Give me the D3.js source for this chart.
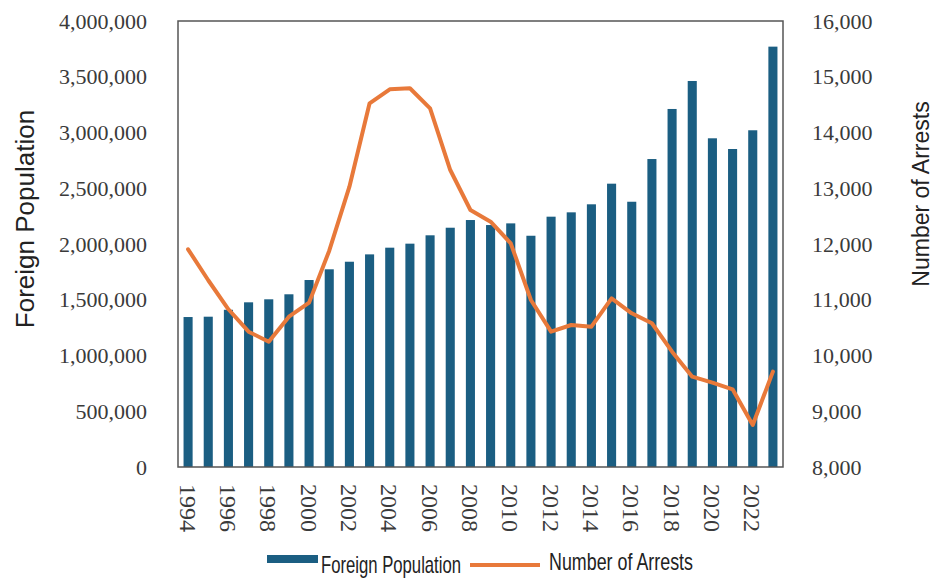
<!DOCTYPE html>
<html>
<head>
<meta charset="utf-8">
<script src="https://cdn.jsdelivr.net/npm/d3@7"></script>
<style>
  body { margin: 0; background: #fff; }
  svg { display: block; }
</style>
</head>
<body>
<div id="chart"></div>
<script>
// values
const years = [1994, 1995, 1996, 1997, 1998, 1999, 2000, 2001, 2002, 2003,
               2004, 2005, 2006, 2007, 2008, 2009, 2010, 2011, 2012, 2013,
               2014, 2015, 2016, 2017, 2018, 2019, 2020, 2021, 2022, 2023];
const foreignPopulation = [1345000, 1348000, 1410000, 1477000, 1504000, 1549000, 1677000, 1773000, 1841000, 1907000,
                           1967000, 2003000, 2078000, 2146000, 2215000, 2170000, 2185000, 2074000, 2245000, 2284000,
                           2356000, 2541000, 2379000, 2762000, 3211000, 3462000, 2948000, 2852000, 3020000, 3770000];
const arrests = [11905, 11350, 10829, 10427, 10248, 10696, 10948, 11880, 13028, 14524,
                 14775, 14793, 14434, 13327, 12610, 12400, 12012, 10995, 10427, 10547,
                 10517, 11026, 10757, 10578, 10068, 9620, 9512, 9393, 8753, 9710];
const xTickYears = [1994, 1996, 1998, 2000, 2002, 2004, 2006, 2008, 2010, 2012, 2014, 2016, 2018, 2020, 2022];
const leftTicks = [0, 500000, 1000000, 1500000, 2000000, 2500000, 3000000, 3500000, 4000000];
const rightTicks = [8000, 9000, 10000, 11000, 12000, 13000, 14000, 15000, 16000];

const W = 937, H = 588;
const plot = { left: 178, right: 783, top: 21, bottom: 467 };
const barColor = "#1b5e82";
const lineColor = "#e8793a";
const serif = "'Liberation Serif', 'Times New Roman', serif";
const sans = "'Liberation Sans', Arial, sans-serif";

const svg = d3.select("#chart").append("svg")
    .attr("width", W)
    .attr("height", H);

const x = d3.scaleBand()
    .domain(years)
    .range([plot.left, plot.right])
    .paddingInner(0.55)
    .paddingOuter(0.275);

const yLeft = d3.scaleLinear().domain([0, 4000000]).range([plot.bottom, plot.top]);
const yRight = d3.scaleLinear().domain([8000, 16000]).range([plot.bottom, plot.top]);

// bars
svg.append("g")
    .selectAll("rect")
    .data(years)
    .join("rect")
    .attr("x", d => x(d))
    .attr("width", x.bandwidth())
    .attr("y", (d, i) => yLeft(foreignPopulation[i]))
    .attr("height", (d, i) => plot.bottom - yLeft(foreignPopulation[i]))
    .attr("fill", barColor);

// arrests line
svg.append("path")
    .datum(years)
    .attr("fill", "none")
    .attr("stroke", lineColor)
    .attr("stroke-width", 4)
    .attr("stroke-linejoin", "round")
    .attr("stroke-linecap", "round")
    .attr("d", d3.line()
        .x(d => x(d) + x.bandwidth() / 2)
        .y((d, i) => yRight(arrests[i]))
    );

// frame
svg.append("rect")
    .attr("x", plot.left)
    .attr("y", plot.top)
    .attr("width", plot.right - plot.left)
    .attr("height", plot.bottom - plot.top)
    .attr("fill", "none")
    .attr("stroke", "#555")
    .attr("stroke-width", 1.5);

// left axis
const leftAxis = svg.append("g")
    .attr("transform", `translate(${plot.left},0)`)
    .call(d3.axisLeft(yLeft).tickValues(leftTicks).tickSize(0).tickPadding(31).tickFormat(d3.format(",")));
leftAxis.select(".domain").remove();
leftAxis.selectAll("text")
    .attr("font-family", serif)
    .attr("font-size", 22)
    .attr("fill", "#3a3a3a");

// right axis
const rightAxis = svg.append("g")
    .attr("transform", `translate(${plot.right},0)`)
    .call(d3.axisRight(yRight).tickValues(rightTicks).tickSize(0).tickPadding(29).tickFormat(d3.format(",")));
rightAxis.select(".domain").remove();
rightAxis.selectAll("text")
    .attr("font-family", serif)
    .attr("font-size", 22)
    .attr("fill", "#3a3a3a");

// x labels, rotated to read downwards
svg.append("g")
    .selectAll("text")
    .data(xTickYears)
    .join("text")
    .attr("transform", d => `translate(${x(d) + x.bandwidth() / 2},484) rotate(90)`)
    .attr("dy", "0.35em")
    .attr("font-family", serif)
    .attr("font-size", 24)
    .attr("fill", "#3a3a3a")
    .text(d => d);

// axis titles
svg.append("text")
    .attr("transform", "translate(25,219) rotate(-90)")
    .attr("text-anchor", "middle")
    .attr("dy", "0.35em")
    .attr("font-family", sans)
    .attr("font-size", 26)
    .attr("fill", "#222")
    .text("Foreign Population");

svg.append("text")
    .attr("transform", "translate(921,194) rotate(-90)")
    .attr("text-anchor", "middle")
    .attr("dy", "0.35em")
    .attr("font-family", sans)
    .attr("font-size", 23)
    .attr("fill", "#222")
    .text("Number of Arrests");

// legend (condensed text)
const legend = svg.append("g");
legend.append("rect")
    .attr("x", 267).attr("y", 555)
    .attr("width", 51).attr("height", 8)
    .attr("fill", barColor);
legend.append("text")
    .attr("x", 321).attr("y", 573)
    .attr("font-family", sans)
    .attr("font-size", 24)
    .attr("textLength", 140)
    .attr("lengthAdjust", "spacingAndGlyphs")
    .attr("fill", "#222")
    .text("Foreign Population");
legend.append("line")
    .attr("x1", 470).attr("x2", 540)
    .attr("y1", 565).attr("y2", 565)
    .attr("stroke", lineColor)
    .attr("stroke-width", 4);
legend.append("text")
    .attr("x", 549).attr("y", 570)
    .attr("font-family", sans)
    .attr("font-size", 24)
    .attr("textLength", 144)
    .attr("lengthAdjust", "spacingAndGlyphs")
    .attr("fill", "#222")
    .text("Number of Arrests");
</script>
</body>
</html>
